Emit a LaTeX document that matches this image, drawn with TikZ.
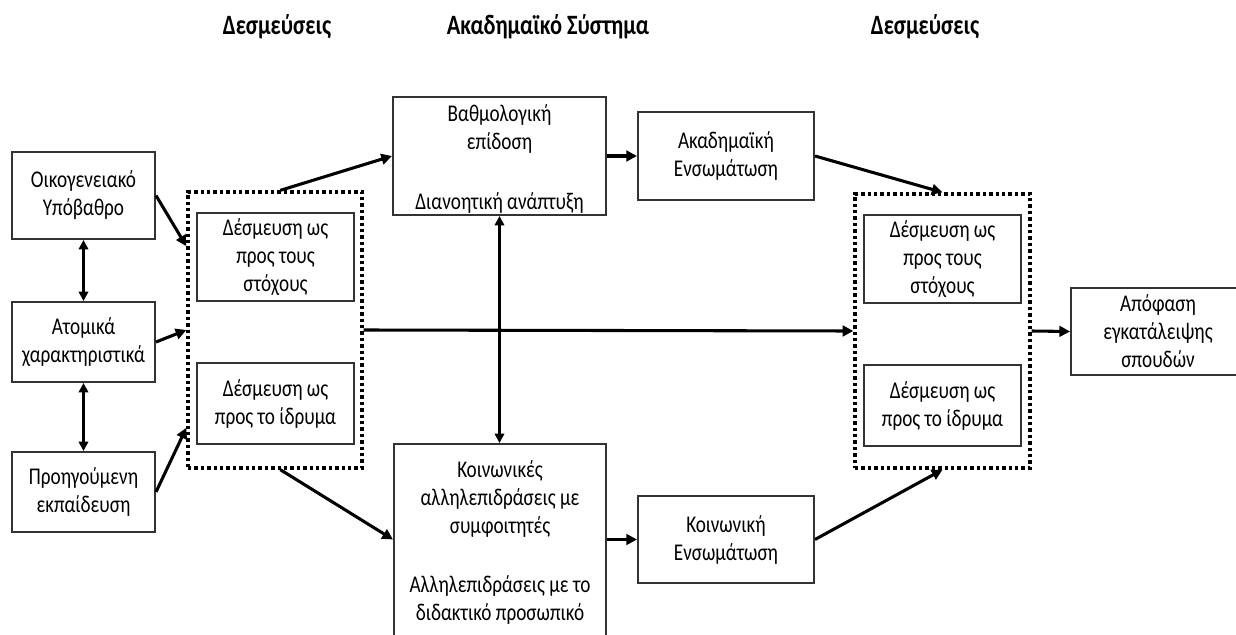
\documentclass[tikz,border=0pt]{standalone}
\usepackage{fontspec}
\setmainfont{Carlito}[FakeStretch=0.8]
\usetikzlibrary{arrows.meta,calc}

\begin{document}
\begin{tikzpicture}[x=0.75pt,y=-0.75pt,
  txt/.style={font=\fontsize{18}{21}\selectfont, align=center, inner sep=0pt},
  box/.style={draw=black!80, line width=1.5pt, txt},
  dotbox/.style={draw=black, line width=2.5pt, dash pattern=on 2.5pt off 2.3pt},
  head/.style={font=\fontsize{21}{24}\selectfont\bfseries, inner sep=0pt},
  conn/.style={line width=2.3pt, -{Triangle[length=8pt,width=8pt]}},
  dbl/.style={line width=2.3pt, {Triangle[length=7pt,width=7pt]}-{Triangle[length=7pt,width=7pt]}}]

\useasboundingbox (0,0) rectangle (1236,635);
\fill[white] (0,0) rectangle (1236,635);

% column headings
\node[head] (h1) at (277,27) {Δεσμεύσεις};
\node[head] (h2) at (548,27) {Ακαδημαϊκό Σύστημα};
\node[head] (h3) at (925,27) {Δεσμεύσεις};

% background factors
\node[box, minimum width=107.25pt, minimum height=65.25pt] (ob) at (83.5,195.5) {Οικογενειακό\\Υπόβαθρο};
\node[box, minimum width=107.25pt, minimum height=60pt] (at) at (83.5,342) {Ατομικά\\χαρακτηριστικά};
\node[box, minimum width=107.25pt, minimum height=60pt] (pe) at (83.5,492) {Προηγούμενη\\εκπαίδευση};

% initial commitments
\node[dotbox, minimum width=130.5pt, minimum height=207pt] (dotL) at (275,330) {};
\node[box, minimum width=117.75pt, minimum height=66pt] (gL1) at (275.5,257) {Δέσμευση ως\\προς τους\\στόχους};
\node[box, minimum width=117.75pt, minimum height=60.75pt] (gL2) at (275.5,403.5) {Δέσμευση ως\\προς το ίδρυμα};

% academic system
\node[box, minimum width=159.75pt, minimum height=88.5pt] (vb) at (499.5,156) {};
\node[txt] (vbt1) at (499.5,129) {Βαθμολογική\\επίδοση};
\node[txt] (vbt2) at (499.5,203) {Διανοητική ανάπτυξη};
\node[box, minimum width=132pt, minimum height=66pt] (ae) at (726,156) {Ακαδημαϊκή\\Ενσωμάτωση};

% social system
\node[box, minimum width=159pt, minimum height=150.75pt] (kb) at (500,544.5) {};
\node[txt] (kbt1) at (500,498.5) {Κοινωνικές\\αλληλεπιδράσεις με\\συμφοιτητές};
\node[txt] (kbt2) at (500,599.5) {Αλληλεπιδράσεις με το\\διδακτικό προσωπικό};
\node[box, minimum width=132pt, minimum height=65.25pt] (ke) at (726,539.5) {Κοινωνική\\Ενσωμάτωση};

% later commitments
\node[dotbox, minimum width=131.25pt, minimum height=205.5pt] (dotR) at (942.5,331) {};
\node[box, minimum width=117.75pt, minimum height=66pt] (gR1) at (942.5,259) {Δέσμευση ως\\προς τους\\στόχους};
\node[box, minimum width=117.75pt, minimum height=60.75pt] (gR2) at (942.5,405.5) {Δέσμευση ως\\προς το ίδρυμα};

% outcome
\node[box, minimum width=130.5pt, minimum height=65.25pt, text width=110pt] (dec) at (1158,331.5) {Απόφαση\\εγκατάλειψης\\σπουδών};

% links between background factors
\draw[dbl] (ob.south) -- (at.north);
\draw[dbl] (at.south) -- (pe.north);

% into initial commitments
\draw[conn] (ob.east) -- ($(dotL.north west)!0.2!(dotL.south west)$);
\draw[conn] (at.east) -- (dotL.west);
\draw[conn] (pe.east) -- ($(dotL.north west)!0.85!(dotL.south west)$);

% into the academic and social systems
\draw[conn] ($(dotL.north west)!0.53!(dotL.north east)$) -- (vb.west);
\draw[conn] ($(dotL.south west)!0.53!(dotL.south east)$) -- (kb.west |- ke.west);
\draw[dbl] (vb.south) -- (vb.south |- kb.north);
\draw[conn] (vb.east) -- (ae.west);
\draw[conn] (kb.east |- ke.west) -- (ke.west);

% into later commitments
\draw[conn] (dotL.east) -- (dotR.west);
\draw[conn] (ae.east) -- (dotR.north);
\draw[conn] (ke.east) -- (dotR.south);
\draw[conn] (dotR.east) -- (dec.west);
\end{tikzpicture}
\end{document}
